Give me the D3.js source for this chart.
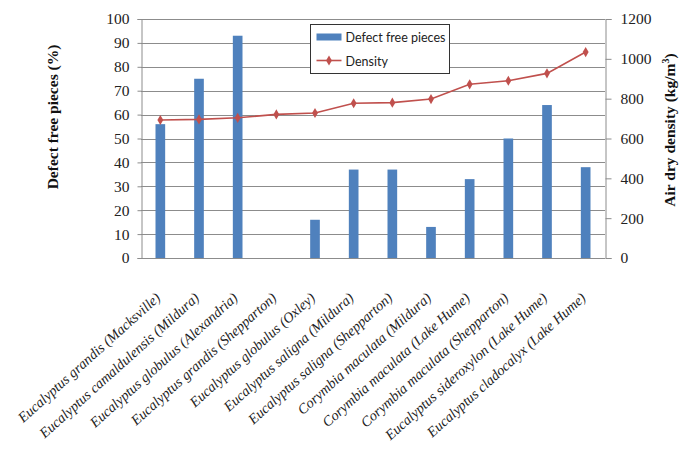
<!DOCTYPE html>
<html>
<head>
<meta charset="utf-8">
<script src="https://cdn.jsdelivr.net/npm/d3@7"></script>
<style>
  body { margin: 0; background: #fff; }
  svg { display: block; }
</style>
</head>
<body>
<div id="chart"></div>
<script>
var categories = [
  'Eucalyptus grandis (Macksville)',
  'Eucalyptus camaldulensis (Mildura)',
  'Eucalyptus globulus  (Alexandria)',
  'Eucalyptus grandis (Shepparton)',
  'Eucalyptus globulus (Oxley)',
  'Eucalyptus saligna (Mildura)',
  'Eucalyptus saligna (Shepparton)',
  'Corymbia maculata (Mildura)',
  'Corymbia maculata (Lake Hume)',
  'Corymbia maculata (Shepparton)',
  'Eucalyptus sideroxylon (Lake Hume)',
  'Eucalyptus cladocalyx (Lake Hume)'
];
var defectFree = [56, 75, 93, 0, 16, 37, 37, 13, 33, 50, 64, 38];
var density = [693, 696, 704, 721, 728, 777, 780, 798, 872, 890, 927, 1034];
var leftTicks = [0, 10, 20, 30, 40, 50, 60, 70, 80, 90, 100];
var rightTicks = [0, 200, 400, 600, 800, 1000, 1200];

var width = 680, height = 454;
var plot = { left: 141, right: 605, top: 19, bottom: 258 };
var SERIF = "'Liberation Serif', 'Times New Roman', Tinos";
var SANS = "'Lato', 'Open Sans'";

var svg = d3.select('#chart')
  .append('svg')
  .attr('width', width)
  .attr('height', height);

var x = d3.scaleBand()
  .domain(categories)
  .range([plot.left, plot.right])
  .padding(0);

var yLeft = d3.scaleLinear().domain([0, 100]).range([plot.bottom, plot.top]);
var yRight = d3.scaleLinear().domain([0, 1200]).range([plot.bottom, plot.top]);

// gridlines
svg.append('g')
  .selectAll('line')
  .data(leftTicks.slice(1))
  .enter()
  .append('line')
  .attr('x1', plot.left)
  .attr('x2', plot.right)
  .attr('y1', function (d) { return Math.round(yLeft(d)) + 0.5; })
  .attr('y2', function (d) { return Math.round(yLeft(d)) + 0.5; })
  .attr('stroke', '#8c8c8c')
  .attr('stroke-width', 1);

// bars
var barW = x.bandwidth() * 0.25;
svg.append('g')
  .selectAll('rect')
  .data(defectFree)
  .enter()
  .append('rect')
  .attr('x', function (d, i) { return x(categories[i]) + x.bandwidth() / 2 - barW / 2; })
  .attr('y', function (d) { return yLeft(d); })
  .attr('width', barW)
  .attr('height', function (d) { return plot.bottom - yLeft(d); })
  .attr('fill', '#4f81bd');

// axes
var leftAxis = svg.append('g')
  .attr('transform', 'translate(' + (plot.left + 0.5) + ',0)')
  .call(d3.axisLeft(yLeft).tickValues(leftTicks).tickSize(4).tickPadding(8));

var rightAxis = svg.append('g')
  .attr('transform', 'translate(' + (plot.right + 0.5) + ',0)')
  .call(d3.axisRight(yRight).tickValues(rightTicks).tickFormat(d3.format('d')).tickSize(6).tickPadding(9));

[leftAxis, rightAxis].forEach(function (ax) {
  ax.select('.domain').attr('stroke', '#8c8c8c');
  ax.selectAll('.tick line').attr('stroke', '#8c8c8c');
  ax.selectAll('.tick text')
    .attr('fill', '#222')
    .style('font-family', SERIF)
    .style('font-size', '15.5px');
});

svg.append('line')
  .attr('x1', plot.left)
  .attr('x2', plot.right)
  .attr('y1', plot.bottom + 0.5)
  .attr('y2', plot.bottom + 0.5)
  .attr('stroke', '#8c8c8c');

// category labels
svg.append('g')
  .selectAll('text')
  .data(categories)
  .enter()
  .append('text')
  .attr('transform', function (d) {
    return 'translate(' + (x(d) + x.bandwidth() / 2 + 1) + ',' + (plot.bottom + 41) + ') rotate(-42)';
  })
  .attr('text-anchor', 'end')
  .style('font-family', SERIF)
  .style('font-style', 'italic')
  .style('font-size', '14.3px')
  .attr('fill', '#222')
  .text(function (d) { return d; });

// density line
var line = d3.line()
  .x(function (d, i) { return x(categories[i]) + x.bandwidth() / 2; })
  .y(function (d) { return yRight(d); });

svg.append('path')
  .datum(density)
  .attr('d', line)
  .attr('fill', 'none')
  .attr('stroke', '#c0504d')
  .attr('stroke-width', 1.6);

var diamond = d3.symbol().type(d3.symbolDiamond).size(30);
svg.append('g')
  .selectAll('path')
  .data(density)
  .enter()
  .append('path')
  .attr('d', diamond)
  .attr('transform', function (d, i) {
    return 'translate(' + (x(categories[i]) + x.bandwidth() / 2) + ',' + yRight(d) + ')';
  })
  .attr('fill', '#c0504d');

// axis titles
svg.append('text')
  .attr('transform', 'translate(58,117) rotate(-90)')
  .attr('text-anchor', 'middle')
  .style('font-family', SERIF)
  .style('font-weight', 'bold')
  .style('font-size', '15.5px')
  .attr('fill', '#111')
  .text('Defect free pieces (%)');

var rt = svg.append('text')
  .attr('transform', 'translate(675,130) rotate(-90)')
  .attr('text-anchor', 'middle')
  .style('font-family', SERIF)
  .style('font-weight', 'bold')
  .style('font-size', '15.5px')
  .attr('fill', '#111');
rt.append('tspan').text('Air dry density (kg/m');
rt.append('tspan').attr('dy', -6).style('font-size', '10px').text('3');
rt.append('tspan').attr('dy', 6).text(')');

// legend
var legend = svg.append('g').attr('transform', 'translate(310.5,24.5)');
legend.append('rect')
  .attr('width', 139)
  .attr('height', 49)
  .attr('fill', '#fff')
  .attr('stroke', '#333');
legend.append('rect')
  .attr('x', 6).attr('y', 9)
  .attr('width', 25).attr('height', 7)
  .attr('fill', '#4f81bd');
legend.append('line')
  .attr('x1', 6).attr('x2', 31)
  .attr('y1', 36).attr('y2', 36)
  .attr('stroke', '#c0504d')
  .attr('stroke-width', 1.6);
legend.append('path')
  .attr('d', diamond)
  .attr('transform', 'translate(18.5,36)')
  .attr('fill', '#c0504d');
legend.selectAll('text.lbl')
  .data(['Defect free pieces', 'Density'])
  .enter()
  .append('text')
  .attr('class', 'lbl')
  .attr('x', 35)
  .attr('y', function (d, i) { return 17 + i * 24; })
  .style('font-family', SANS)
  .style('font-size', '12.5px')
  .attr('fill', '#222')
  .text(function (d) { return d; });
</script>
</body>
</html>
